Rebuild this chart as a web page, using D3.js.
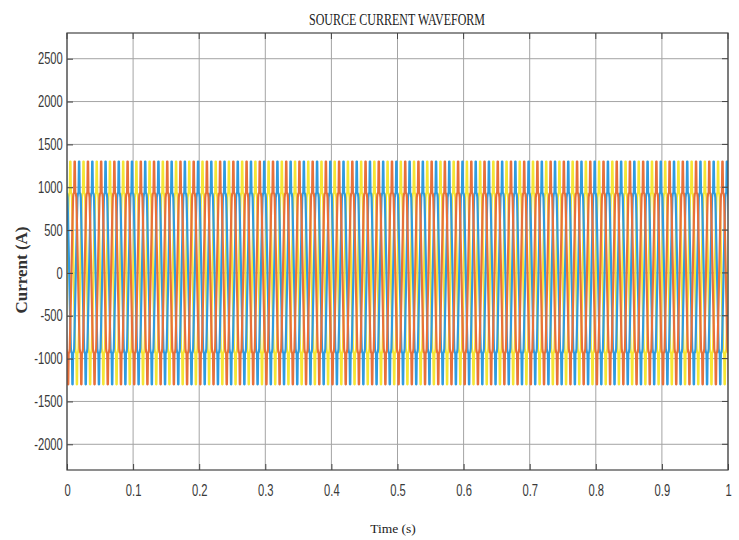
<!DOCTYPE html>
<html>
<head>
<meta charset="utf-8">
<script src="https://cdn.jsdelivr.net/npm/d3@7/dist/d3.min.js"></script>
<style>
  body { margin: 0; background: #fff; }
  .tick-label { font-family: "Liberation Sans", Arial, sans-serif; font-size: 16px; fill: #3a3a3a; }
  .serif { font-family: "Liberation Serif", "Times New Roman", serif; fill: #222; }
</style>
</head>
<body>
<script>
'use strict';

// one period of the source current (angle in degrees, current in A)
let cycleAngles = [0, 30, 45, 55, 75, 85, 95, 105, 125, 135, 150, 180,
                   210, 225, 235, 255, 265, 275, 285, 305, 315, 330, 360];
let cycleShape  = [0, 600, 880, 920, 940, 1300, 1300, 940, 920, 880, 600, 0,
                   -600, -880, -920, -940, -1300, -1300, -940, -920, -880, -600, 0];

// three phases, drawn in this order (last on top)
let phaseNames   = ['a', 'b', 'c'];
let phaseOffsets = [0, -120, 120];
let phaseColors  = ['#f5e634', '#2f9be0', '#e8703a'];

let frequency = 50;   // Hz
let duration = 1;     // s

let xTicks = [0, 0.1, 0.2, 0.3, 0.4, 0.5, 0.6, 0.7, 0.8, 0.9, 1];
let yTicks = [-2000, -1500, -1000, -500, 0, 500, 1000, 1500, 2000, 2500];

let width = 739, height = 540;
let plot = { left: 67, right: 728, top: 33, bottom: 470 };

let svg = d3.select('body').append('svg')
  .attr('width', width)
  .attr('height', height);

let xScale = d3.scaleLinear().domain([0, 1]).range([plot.left, plot.right]);
let yScale = d3.scaleLinear().domain([-2300, 2800]).range([plot.bottom, plot.top]);

// grid
svg.append('g').selectAll('line')
  .data(xTicks)
  .enter().append('line')
  .attr('x1', d => xScale(d)).attr('x2', d => xScale(d))
  .attr('y1', plot.top).attr('y2', plot.bottom)
  .attr('stroke', '#a4a4a4').attr('stroke-width', 1);

svg.append('g').selectAll('line')
  .data(yTicks)
  .enter().append('line')
  .attr('x1', plot.left).attr('x2', plot.right)
  .attr('y1', d => yScale(d)).attr('y2', d => yScale(d))
  .attr('stroke', '#a4a4a4').attr('stroke-width', 1);

// build waveform points for each phase by repeating the period
function phasePoints(offset) {
  let pts = [];
  for (let k = -1; k <= frequency * duration + 1; k++) {
    cycleAngles.forEach((a, i) => {
      let t = (k + (a + offset) / 360) / frequency;
      pts.push([t, cycleShape[i]]);
    });
  }
  return pts;
}

svg.append('clipPath').attr('id', 'plotClip')
  .append('rect')
  .attr('x', plot.left).attr('y', plot.top)
  .attr('width', plot.right - plot.left)
  .attr('height', plot.bottom - plot.top);

let line = d3.line()
  .x(d => xScale(d[0]))
  .y(d => yScale(d[1]));

let traces = svg.append('g').attr('clip-path', 'url(#plotClip)');
phaseNames.forEach((name, i) => {
  traces.append('path')
    .datum(phasePoints(phaseOffsets[i]))
    .attr('class', 'phase-' + name)
    .attr('d', line)
    .attr('fill', 'none')
    .attr('stroke', phaseColors[i])
    .attr('stroke-width', 2.2)
    .attr('stroke-linejoin', 'round');
});

// axes box with inward ticks
let axisG = svg.append('g');
axisG.append('rect')
  .attr('x', plot.left).attr('y', plot.top)
  .attr('width', plot.right - plot.left)
  .attr('height', plot.bottom - plot.top)
  .attr('fill', 'none').attr('stroke', '#444').attr('stroke-width', 1.2);

let plain = d => String(d);
let bottomAxis = d3.axisBottom(xScale).tickValues(xTicks).tickSizeInner(-6).tickSizeOuter(0)
  .tickFormat(plain).tickPadding(15);
let leftAxis = d3.axisLeft(yScale).tickValues(yTicks).tickSizeInner(-6).tickSizeOuter(0)
  .tickFormat(plain).tickPadding(6);

let gx = axisG.append('g')
  .attr('transform', 'translate(0,' + plot.bottom + ')')
  .call(bottomAxis);
let gy = axisG.append('g')
  .attr('transform', 'translate(' + plot.left + ',0)')
  .call(leftAxis);
[gx, gy].forEach(g => {
  g.select('.domain').remove();
  g.selectAll('.tick line').attr('stroke', '#444');
  g.selectAll('.tick text')
    .attr('class', 'tick-label')
    .attr('fill', null)
    .attr('transform', 'scale(0.7,1)');
});

// top and right ticks
axisG.append('g').selectAll('line').data(xTicks).enter().append('line')
  .attr('x1', d => xScale(d)).attr('x2', d => xScale(d))
  .attr('y1', plot.top).attr('y2', plot.top + 6)
  .attr('stroke', '#444');
axisG.append('g').selectAll('line').data(yTicks).enter().append('line')
  .attr('x1', plot.right - 6).attr('x2', plot.right)
  .attr('y1', d => yScale(d)).attr('y2', d => yScale(d))
  .attr('stroke', '#444');

// labels
svg.append('text')
  .attr('class', 'serif')
  .attr('x', 397).attr('y', 25)
  .attr('text-anchor', 'middle')
  .attr('textLength', 176)
  .attr('lengthAdjust', 'spacingAndGlyphs')
  .style('font-size', '17px')
  .text('SOURCE CURRENT WAVEFORM');

svg.append('text')
  .attr('class', 'serif')
  .attr('x', 393).attr('y', 533)
  .attr('text-anchor', 'middle')
  .style('font-size', '13.5px')
  .text('Time (s)');

svg.append('text')
  .attr('class', 'serif')
  .attr('transform', 'translate(27, 270) rotate(-90)')
  .attr('text-anchor', 'middle')
  .style('font-size', '17px')
  .style('font-weight', 'bold')
  .style('fill', '#333')
  .text('Current (A)');
</script>
</body>
</html>
